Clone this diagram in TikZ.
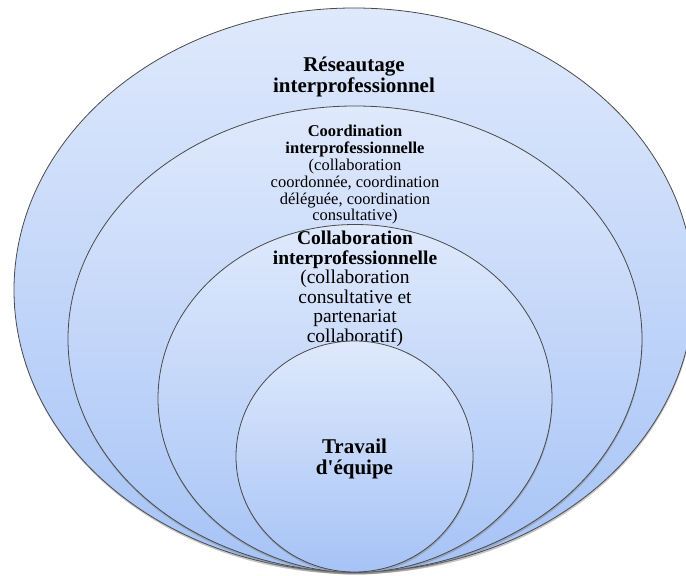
\documentclass[tikz,border=0pt]{standalone}
\usepackage{fontspec}
\setmainfont{Liberation Serif}
\usepackage{tikz}
\usetikzlibrary{shapes.geometric,shadows}
\definecolor{hautbleu}{RGB}{223,233,252}
\definecolor{basbleu}{RGB}{166,195,246}
\definecolor{trait}{HTML}{4A4A4A}
\tikzset{
  bulle/.style={ellipse, draw=trait, line width=.8pt, inner sep=0pt,
    top color=hautbleu, bottom color=basbleu,
    drop shadow={shadow xshift=.4pt, shadow yshift=-2.2pt, opacity=.45}},
  txt/.style={align=center, inner sep=0pt, text=black},
}
\begin{document}
\begin{tikzpicture}[x=1pt, y=1pt]
  \useasboundingbox (0,0) rectangle (686,576);
  \clip (0,0) rectangle (686,576);
  % cercle exterieur
  \node[bulle, minimum width=680pt, minimum height=564pt] (reseau) at (354,286) {};
  \node[txt, font=\fontsize{21}{20.5}\selectfont\bfseries] (treseau) at (354,499)
    {Réseautage\\interprofessionnel};
  % coordination
  \node[bulle, minimum width=574pt, minimum height=466pt] (coord) at (355,237) {};
  \node[txt, font=\fontsize{16.5}{16.8}\selectfont] (tcoord) at (355,401)
    {\textbf{Coordination}\\\textbf{interprofessionnelle}\\(collaboration\\coordonnée, coordination\\déléguée, coordination\\consultative)};
  % collaboration
  \node[bulle, minimum width=394pt, minimum height=348pt] (collab) at (355,177.5) {};
  \node[txt, font=\fontsize{19.5}{19.5}\selectfont] (tcollab) at (355,287)
    {\textbf{Collaboration}\\\textbf{interprofessionnelle}\\(collaboration\\consultative et\\partenariat\\collaboratif)};
  % travail d'equipe
  \node[bulle, minimum width=237pt, minimum height=231pt] (equipe) at (354.5,119.5) {};
  \node[txt, font=\fontsize{21}{21}\selectfont\bfseries] (tequipe) at (354.5,117.5)
    {Travail\\d\textquotesingle équipe};
\end{tikzpicture}
\end{document}
